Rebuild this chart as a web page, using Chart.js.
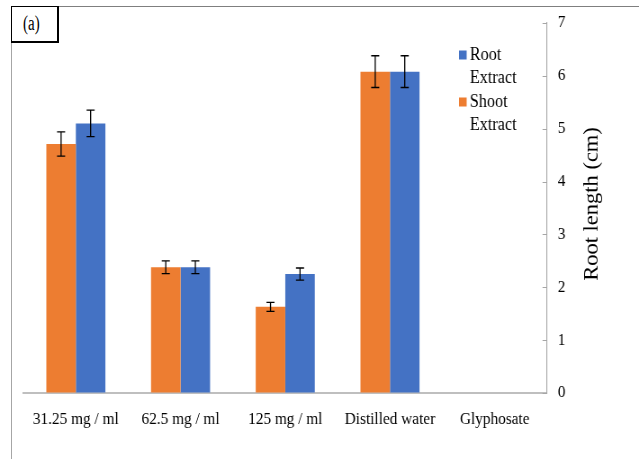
<!DOCTYPE html>
<html>
<head>
<meta charset="utf-8">
<script src="https://cdn.jsdelivr.net/npm/chart.js@4/dist/chart.umd.min.js"></script>
<style>
  html, body { margin: 0; padding: 0; background: #fff; }
  body { width: 639px; height: 459px; position: relative; overflow: hidden; }
  #topLine { position: absolute; left: 11px; right: 0; top: 6px; height: 1px; background: #7f7f7f; }
  #leftLine { position: absolute; left: 11px; top: 6px; bottom: 0; width: 1px; background: #a6a6a6; }
  #panel { position: absolute; left: 11px; top: 6px; width: 45px; height: 34px; border: 1px solid #000;
           border-right-width: 2px; border-bottom-width: 2px; background: #fff; z-index: 2; }
  #panel span { position: absolute; left: 11px; top: 5px; font: 20px "Liberation Serif", "Times New Roman", serif;
                color: #000; transform: scaleX(0.75); transform-origin: 0 0; display: inline-block; }
  #wrap { position: absolute; left: 0; top: 0; width: 710px; height: 459px; transform: scaleX(0.9); transform-origin: 0 0; z-index: 1; }
</style>
</head>
<body>
<div id="topLine"></div>
<div id="leftLine"></div>
<div id="panel"><span>(a)</span></div>
<div id="wrap"><canvas id="rootChart" width="710" height="459"></canvas></div>
<script>
const categories = ["31.25 mg / ml", "62.5 mg / ml", "125 mg / ml", "Distilled water", "Glyphosate"];
const shootExtract = [4.71, 2.38, 1.63, 6.08, 0];
const rootExtract = [5.10, 2.38, 2.25, 6.08, 0];
const shootError = [0.23, 0.12, 0.085, 0.30, 0];
const rootError = [0.25, 0.12, 0.115, 0.30, 0];
const yMin = 0;
const yMax = 7;
const yTitle = "Root length (cm)";

const SERIF = '"Liberation Serif", "Times New Roman", serif';
const ORANGE = "#ED7D31";
const BLUE = "#4472C4";

// error bars, inner tick marks, rotated title and the two-line legend
const extras = {
  id: "extras",
  afterDatasetsDraw(chart) {
    const ctx = chart.ctx;
    const y = chart.scales.y;
    const area = chart.chartArea;
    const errs = [shootError, rootError];

    ctx.save();
    ctx.strokeStyle = "#000";
    ctx.lineWidth = 1.3;
    chart.data.datasets.forEach((ds, i) => {
      chart.getDatasetMeta(i).data.forEach((bar, j) => {
        const e = errs[i][j];
        if (!e) return;
        const top = y.getPixelForValue(ds.data[j] + e);
        const bot = y.getPixelForValue(ds.data[j] - e);
        ctx.beginPath();
        ctx.moveTo(bar.x, top); ctx.lineTo(bar.x, bot);
        ctx.moveTo(bar.x - 4.5, top); ctx.lineTo(bar.x + 4.5, top);
        ctx.moveTo(bar.x - 4.5, bot); ctx.lineTo(bar.x + 4.5, bot);
        ctx.stroke();
      });
    });

    // ticks point into the plot from the right-hand axis
    ctx.strokeStyle = "#a6a6a6";
    ctx.lineWidth = 1;
    y.ticks.forEach(t => {
      const py = Math.round(y.getPixelForValue(t.value)) + 0.5;
      ctx.beginPath();
      ctx.moveTo(area.right - 5, py); ctx.lineTo(area.right, py);
      ctx.stroke();
    });

    ctx.fillStyle = "#000";
    ctx.font = "22.5px " + SERIF;
    ctx.textAlign = "center";
    ctx.textBaseline = "middle";
    ctx.translate(658, 204);
    ctx.rotate(-Math.PI / 2);
    ctx.fillText(yTitle, 0, 0);
    ctx.restore();

    ctx.save();
    ctx.font = "18px " + SERIF;
    ctx.textBaseline = "middle";
    const items = [
      { color: BLUE, lines: ["Root", "Extract"], y: 55 },
      { color: ORANGE, lines: ["Shoot", "Extract"], y: 102 }
    ];
    items.forEach(it => {
      ctx.fillStyle = it.color;
      ctx.fillRect(510, it.y - 4.5, 8.5, 9);
      ctx.fillStyle = "#000";
      it.lines.forEach((txt, k) => ctx.fillText(txt, 522, it.y + k * 23.5));
    });
    ctx.restore();
  }
};

new Chart(document.getElementById("rootChart").getContext("2d"), {
  type: "bar",
  data: {
    labels: categories,
    datasets: [
      { label: "Shoot Extract", data: shootExtract, backgroundColor: ORANGE, borderWidth: 0 },
      { label: "Root Extract", data: rootExtract, backgroundColor: BLUE, borderWidth: 0 }
    ]
  },
  options: {
    responsive: false,
    animation: false,
    devicePixelRatio: 1,
    layout: { padding: { left: 26.1, top: 23, right: 0, bottom: 0 } },
    datasets: { bar: { categoryPercentage: 0.564, barPercentage: 1 } },
    plugins: { legend: { display: false }, tooltip: { enabled: false } },
    scales: {
      x: {
        grid: { display: false },
        border: { display: true, color: "#bfbfbf", width: 2 },
        ticks: { color: "#000", font: { family: SERIF, size: 17 }, padding: 8, maxRotation: 0 },
        afterFit: s => { s.height = 66; }
      },
      y: {
        position: "right",
        min: yMin,
        max: yMax,
        grid: { drawOnChartArea: false, drawTicks: false },
        border: { display: true, color: "#a6a6a6", width: 1.1 },
        ticks: { stepSize: 1, color: "#000", font: { family: SERIF, size: 17 }, padding: 12 },
        afterFit: s => { s.width = 102.2; }
      }
    }
  },
  plugins: [extras]
});
</script>
</body>
</html>
